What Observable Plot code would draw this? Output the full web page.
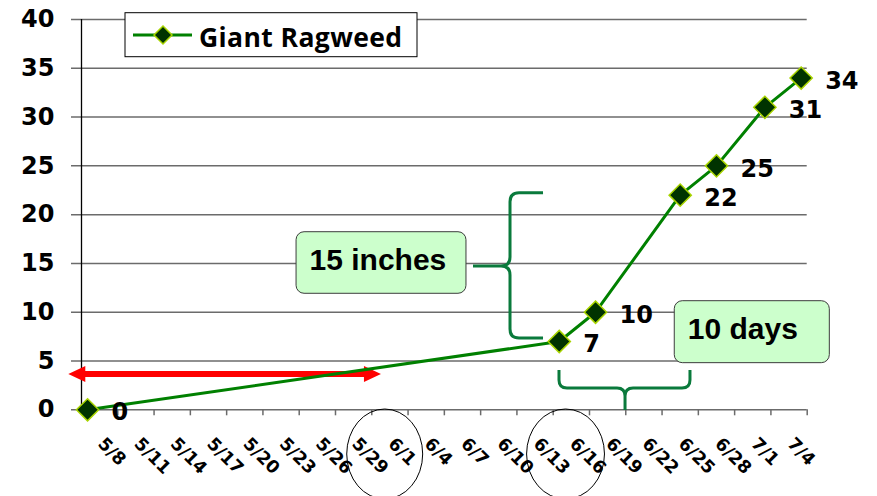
<!DOCTYPE html>
<html><head><meta charset="utf-8">
<script src="https://cdn.jsdelivr.net/npm/d3@7"></script>
<script src="https://cdn.jsdelivr.net/npm/@observablehq/plot@0.6"></script>
<style>
html,body{margin:0;padding:0;background:#fff;}
#chart{width:877px;height:496px;overflow:hidden;}
</style></head><body><div id="chart"></div>
<script>
// ---- data ----
const seriesName = "Giant Ragweed";
const dates = ["5/8", "6/16", "6/19", "6/26", "6/29", "7/3", "7/6"];
const heights = [0, 7, 10, 22, 25, 31, 34];
const xTickLabels = ["5/8","5/11","5/14","5/17","5/20","5/23","5/26","5/29","6/1","6/4","6/7","6/10","6/13","6/16","6/19","6/22","6/25","6/28","7/1","7/4"];
const yTicks = [0, 5, 10, 15, 20, 25, 30, 35, 40];
const callouts = [
  {text: "15 inches", x1: 17.28, x2: 31.33, y1: 11.89, y2: 18.2},
  {text: "10 days", x1: 48.55, x2: 61.37, y1: 4.78, y2: 11.13}
];
const ellipses = [
  {cx: 24.61, rx: 3.14, cy: -4.58, ry: 4.61},
  {cx: 39.56, rx: 3.22, cy: -4.58, ry: 4.61}
];
const redArrow = {x1: -1.55, x2: 24.3, y: 3.62};
const vBrace = {armX: 37.7, spineX: 34.97, tipX: 31.91, yTop: 22.2, yMid: 14.69, yBot: 7.31};
const hBrace = {xL: 39.02, xR: 49.85, xMid: 44.48, yTop: 4.03, ySpine: 2.18, yTip: -0.07};

// ---- helpers ----
function dayIndex(s) {
  const [m, d] = s.split("/").map(Number);
  return Math.round((Date.UTC(2000, m - 1, d) - Date.UTC(2000, 4, 8)) / 864e5);
}
const data = dates.map((d, i) => ({day: dayIndex(d), value: heights[i], label: String(heights[i])}));
const labelDays = xTickLabels.map(dayIndex);
const bounds = [...labelDays.map(d => d - 0.5), labelDays[labelDays.length - 1] + 2.5];

const W = 877, H = 496, mL = 81, mR = 70.3, mT = 19, mB = 86.7;
const font = "DejaVu Sans";

const chart = Plot.plot({
  width: W, height: H,
  marginLeft: mL, marginRight: mR, marginTop: mT, marginBottom: mB,
  x: {type: "linear", domain: [bounds[0], bounds[bounds.length - 1]], axis: null},
  y: {domain: [0, 40], axis: null},
  style: {background: "white", fontFamily: font},
  marks: [
    Plot.ruleY(yTicks, {y: d => d, stroke: "#6b6b6b", strokeWidth: 1.5, insetLeft: -10}),
    Plot.ruleX(bounds.slice(1), {x: d => d, stroke: "#6b6b6b", strokeWidth: 1.5, insetTop: H - mT - mB, insetBottom: -6}),
    Plot.ruleX([bounds[0]], {x: d => d, stroke: "black", strokeWidth: 1.3}),
    Plot.text(yTicks, {y: d => d, text: d => String(d), frameAnchor: "left", textAnchor: "end", dx: -27,
      fontSize: 24, fontWeight: "bold", fontFamily: font, fill: "black"}),
    Plot.text(xTickLabels, {x: d => dayIndex(d), text: d => d, frameAnchor: "bottom", rotate: 45,
      textAnchor: "start", lineAnchor: "bottom", dx: 9.5, dy: 35,
      fontSize: 17.5, fontWeight: "bold", fontFamily: font, fill: "black"}),
    Plot.line(data, {x: "day", y: "value", stroke: "#008000", strokeWidth: 3}),
    Plot.dot(data, {x: "day", y: "value", symbol: "diamond2", r: 10, fill: "#003300", stroke: "#a8d400", strokeWidth: 1.5}),
    Plot.text(data, {x: "day", y: "value", text: "label", textAnchor: "start", dx: 24, dy: 3,
      fontSize: 24, fontWeight: "bold", fontFamily: font, fill: "black"})
  ]
});
document.getElementById("chart").appendChild(chart);

// ---- annotations (positioned through the plot's scales) ----
const sx = chart.scale("x"), sy = chart.scale("y");
const X = v => sx.apply(v), Y = v => sy.apply(v);
const svg = d3.select(chart);
const lineNode = svg.select('g[aria-label="line"]').node();
const ann = svg.insert("g", () => lineNode);

ann.selectAll("ellipse").data(ellipses).join("ellipse")
  .attr("cx", d => X(d.cx)).attr("rx", d => X(d.cx + d.rx) - X(d.cx))
  .attr("cy", d => Y(d.cy)).attr("ry", d => Y(d.cy - d.ry) - Y(d.cy))
  .attr("fill", "none").attr("stroke", "black").attr("stroke-width", 1);

// red double arrow
{
  const x0 = X(redArrow.x1), x1 = X(redArrow.x2), y = Y(redArrow.y);
  const hl = 17, hh = 8, st = 3.1;
  ann.append("path")
    .attr("d", `M${x0},${y}L${x0+hl},${y-hh}L${x0+hl},${y-st}L${x1-hl},${y-st}L${x1-hl},${y-hh}L${x1},${y}L${x1-hl},${y+hh}L${x1-hl},${y+st}L${x0+hl},${y+st}L${x0+hl},${y+hh}Z`)
    .attr("fill", "#ff0000");
}

// braces
const braceColor = "#0a7a3c";
{
  const ax = X(vBrace.armX), sxp = X(vBrace.spineX), tx = X(vBrace.tipX);
  const yt = Y(vBrace.yTop), ym = Y(vBrace.yMid), yb = Y(vBrace.yBot);
  const r = 9;
  ann.append("path")
    .attr("d", `M${ax},${yt}L${sxp+r},${yt}Q${sxp},${yt} ${sxp},${yt+r}L${sxp},${ym-r}Q${sxp},${ym} ${sxp-r},${ym}L${tx},${ym}M${sxp-r},${ym}Q${sxp},${ym} ${sxp},${ym+r}L${sxp},${yb-r}Q${sxp},${yb} ${sxp+r},${yb}L${ax},${yb}`)
    .attr("fill", "none").attr("stroke", braceColor).attr("stroke-width", 3);
}
{
  const xl = X(hBrace.xL), xr = X(hBrace.xR), xm = X(hBrace.xMid);
  const yt = Y(hBrace.yTop), ys = Y(hBrace.ySpine), yp = Y(hBrace.yTip);
  const r = 8;
  ann.append("path")
    .attr("d", `M${xl},${yt}L${xl},${ys-r}Q${xl},${ys} ${xl+r},${ys}L${xm-r},${ys}Q${xm},${ys} ${xm},${ys+r}L${xm},${yp}M${xm},${ys+r}Q${xm},${ys} ${xm+r},${ys}L${xr-r},${ys}Q${xr},${ys} ${xr},${ys-r}L${xr},${yt}`)
    .attr("fill", "none").attr("stroke", braceColor).attr("stroke-width", 3);
}

// callout boxes
const cg = ann.selectAll("g.callout").data(callouts).join("g").attr("class", "callout");
cg.append("rect")
  .attr("x", d => X(d.x1)).attr("width", d => X(d.x2) - X(d.x1))
  .attr("y", d => Y(d.y2)).attr("height", d => Y(d.y1) - Y(d.y2))
  .attr("rx", 8).attr("ry", 8)
  .attr("fill", "#ccffcc").attr("stroke", "#3c3c3c").attr("stroke-width", 1);
cg.append("text")
  .attr("x", d => X(d.x1) + 13.5)
  .attr("y", d => (Y(d.y1) + Y(d.y2)) / 2 + 7.5)
  .attr("text-anchor", "start")
  .attr("font-family", "Liberation Sans, Arial, sans-serif").attr("font-weight", "bold")
  .attr("font-size", 30).attr("fill", "black")
  .text(d => d.text);

// legend (on top)
{
  const lg = svg.append("g");
  lg.append("rect").attr("x", 125).attr("y", 12.7).attr("width", 292).attr("height", 44)
    .attr("fill", "white").attr("stroke", "black").attr("stroke-width", 1);
  lg.append("line").attr("x1", 133).attr("x2", 192).attr("y1", 35).attr("y2", 35)
    .attr("stroke", "#008000").attr("stroke-width", 3);
  const cx = 163, cy = 35, h = 9;
  lg.append("path").attr("d", `M${cx},${cy-h}L${cx+h},${cy}L${cx},${cy+h}L${cx-h},${cy}Z`)
    .attr("fill", "#003300").attr("stroke", "#a8d400").attr("stroke-width", 1.5);
  lg.append("text").attr("x", 199).attr("y", 46.5).attr("text-anchor", "start")
    .attr("font-family", "Open Sans, sans-serif").attr("font-weight", "bold").attr("font-size", 26.5)
    .attr("letter-spacing", 0.4)
    .attr("fill", "black").text(seriesName);
}
</script></body></html>
